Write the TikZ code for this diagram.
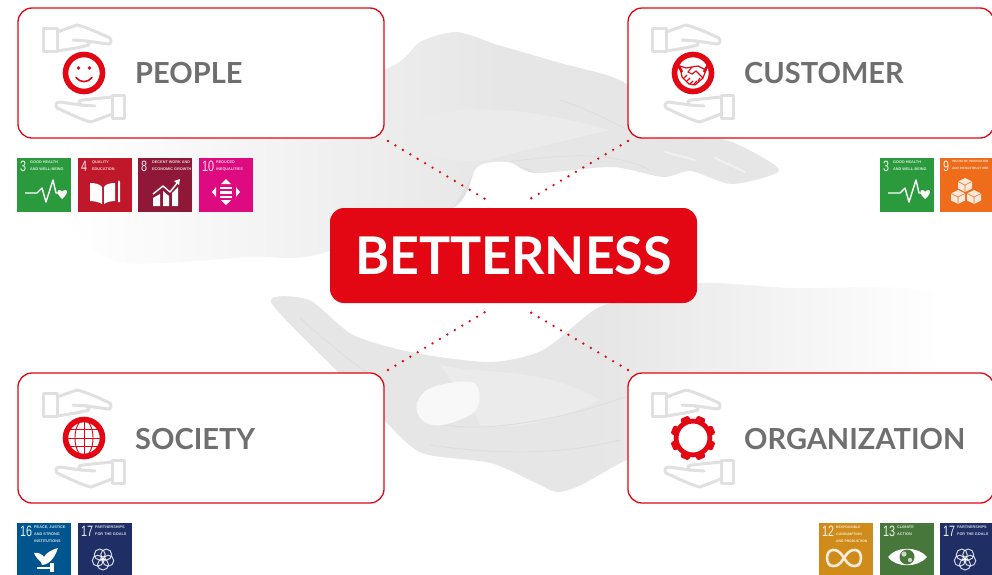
\documentclass[tikz,border=0pt]{standalone}
\usepackage{fontspec}
\setmainfont{Lato}
\newfontfamily\sdgfont{Liberation Sans}
\usetikzlibrary{calc}
\definecolor{brand}{HTML}{E30613}
\definecolor{labelgray}{HTML}{6F6F6F}
\definecolor{handline}{HTML}{E0E0E0}
\definecolor{skin}{HTML}{E6E6E6}
\definecolor{skinarm}{HTML}{F3F3F3}
\definecolor{skinlight}{HTML}{EBEBEB}
\definecolor{skindark}{HTML}{DEDEDE}
\definecolor{sdg3}{HTML}{2A9A3C}
\definecolor{sdg4}{HTML}{C0182B}
\definecolor{sdg8}{HTML}{8F1838}
\definecolor{sdg10}{HTML}{DE0A7F}
\definecolor{sdg12}{HTML}{D08C1A}
\definecolor{sdg16}{HTML}{00558F}
\definecolor{sdg17}{HTML}{1F2F66}
\definecolor{sdgorange}{HTML}{EE6C1A}
\definecolor{sdggreen}{HTML}{47773A}
\newcommand{\sdgsize}{3.8}
\tikzset{
 x=1pt,y=-1pt,
 card/.style={draw=brand,line width=1.3pt,fill=white,rounded corners=14pt,minimum width=366pt,minimum height=130pt,inner sep=0pt},
 cardlabel/.style={anchor=west,inner sep=0pt,text=labelgray,font=\fontsize{29}{29}\selectfont\bfseries},
 core/.style={fill=brand,rounded corners=14pt,minimum width=367pt,minimum height=95pt,inner sep=0pt,text=white,font=\fontsize{52}{52}\selectfont\bfseries},
 reddots/.style={draw=brand,line width=2.6pt,line cap=round,dash pattern=on 0pt off 8.65pt},
 handstroke/.style={draw=handline,line width=3pt,line join=round,line cap=round,fill=none},
 ringstroke/.style={draw=brand,line width=5.6pt,fill=white},
 sdgbox/.style={minimum width=54pt,minimum height=54pt,inner sep=0pt,anchor=north west},
 sdgnum/.style={anchor=north west,inner sep=0pt,text=white,text opacity=.9,font=\sdgfont\fontsize{15}{15}\selectfont},
 sdgtxt/.style={anchor=north west,inner sep=0pt,text=white,text opacity=.8,align=left,font=\sdgfont\fontsize{\sdgsize}{7}\selectfont\bfseries},
 wline/.style={draw=white,line width=1.4pt,line join=round,fill=none},
 caring/.pic={
  \draw[handstroke] (-41,-45) rectangle (-27,-22);
  \draw[handstroke] (-27,-41) -- (-7,-48) .. controls (2,-46) and (15,-40) .. (26,-35) .. controls (28,-32) and (27,-29) .. (24,-29) -- (3,-32) -- (-11,-33);
  \draw[handstroke] (3,-32) .. controls (6,-30) and (6,-27) .. (1,-27) -- (-8,-25) -- (-27,-22);
  \draw[handstroke] (28,22) rectangle (40,45);
  \draw[handstroke] (28,41) -- (7,49) .. controls (-2,47) and (-16,40) .. (-27,35) .. controls (-29,32) and (-28,29) .. (-24,29) -- (-3,32) -- (11,33);
  \draw[handstroke] (-3,32) .. controls (-6,30) and (-6,27) .. (-1,27) -- (8,26) -- (28,24);
 },
}
% SDG tile: #1 name, #2 x, #3 y, #4 colour, #5 number, #6 label, #7 label offset, #8 icon
\newcommand{\sdgtile}[8]{%
 \node[sdgbox,fill=#4] (#1) at (#2,#3) {};
 \begin{scope}[shift={(#2,#3)}]
  \node[sdgnum] (#1n) at (3,3) {\scalebox{.72}[1]{#5}};
  \node[sdgtxt] (#1t) at (#7,2.5) {#6};
  #8
 \end{scope}}
\newcommand{\iconhealth}{%
 \draw[wline] (8,35) -- (20,35) -- (25,30) -- (29,44) -- (36,22) -- (39,35) -- (41,35);
 \fill[white] (45,41) .. controls (40,36) and (39,33) .. (42,32) .. controls (44,32) and (45,33) .. (45,34) .. controls (45,33) and (47,32) .. (49,32) .. controls (51,33) and (50,37) .. (45,41) -- cycle;}
\newcommand{\iconbook}{%
 \fill[white] (12,25) .. controls (17,25) and (22,26) .. (24,29) -- (24,46) .. controls (21,44) and (16,43) .. (12,43) -- cycle;
 \fill[white] (37,25) .. controls (32,25) and (28,26) .. (26,29) -- (26,46) .. controls (29,44) and (33,43) .. (37,43) -- cycle;
 \fill[white] (40,24) -- (41,22) -- (42,24) -- (42,44) -- (40,44) -- cycle;}
\newcommand{\iconchart}{%
 \draw[wline,line width=1.4pt] (15,36) -- (25,28) -- (32,34) -- (40,24);
 \fill[white] (42,21) -- (36,23) -- (41,27) -- cycle;
 \fill[white] (15,40) -- (22,36) -- (22,48) -- (15,48) -- cycle;
 \fill[white] (25,33) -- (31,38) -- (31,48) -- (25,48) -- cycle;
 \fill[white] (34,35) -- (40,29) -- (40,48) -- (34,48) -- cycle;}
\newcommand{\iconreduced}{%
 \fill[white] (27,21) -- (32,26) -- (22,26) -- cycle;
 \fill[white] (27,47) -- (32,42) -- (22,42) -- cycle;
 \fill[white] (13,34) -- (17,29) -- (17,39) -- cycle;
 \fill[white] (41,34) -- (37,29) -- (37,39) -- cycle;
 \fill[white] (21,28.5) rectangle (33,31); \fill[white] (21,33) rectangle (33,35.5); \fill[white] (21,37.5) rectangle (33,40);}
\newcommand{\iconcubesb}{%
 \foreach \cx/\cy in {25/27,18/39,34/39}{
  \fill[white,opacity=.85] (\cx,\cy-7) -- (\cx+7,\cy-3.5) -- (\cx+7,\cy+3.5) -- (\cx,\cy+7) -- (\cx-7,\cy+3.5) -- (\cx-7,\cy-3.5) -- cycle;
  \draw[draw=sdgorange,line width=.6pt] (\cx-7,\cy-3.5) -- (\cx,\cy) -- (\cx+7,\cy-3.5) (\cx,\cy) -- (\cx,\cy+7);}}
\newcommand{\iconflower}{%
 \foreach \a in {90,162,234,306,18}{
  \draw[draw=white,opacity=.8,line width=1pt] ($(25,36)+(\a:5.5)$) circle (5.5pt);}
 \draw[draw=white,opacity=.8,line width=.8pt] (25,36) circle (2.5pt);}
\newcommand{\icondove}{%
 \fill[white] (17,30) .. controls (21,29) and (25,31) .. (27,34) .. controls (29,30) and (34,27) .. (41,25) .. controls (39,31) and (36,37) .. (31,40) .. controls (29,41) and (27,42) .. (25,42) -- (24,39) .. controls (21,37) and (19,34) .. (17,30) -- cycle;
 \fill[white] (20,44) rectangle (35,46);
 \fill[white] (33,40) rectangle (37,49);}
\newcommand{\iconinfinity}{%
 \draw[draw=white!85!orange,line width=2.6pt] (25,35) .. controls (20,27) and (17,27) .. (14,27) .. controls (6,27) and (6,43) .. (14,43) .. controls (17,43) and (20,43) .. (25,35) .. controls (30,27) and (33,27) .. (36,27) .. controls (44,27) and (44,43) .. (36,43) .. controls (33,43) and (30,43) .. (25,35) -- cycle;}
\newcommand{\iconeye}{%
 \fill[white] (8,34) .. controls (16,23) and (38,23) .. (47,34) .. controls (38,45) and (16,45) .. (8,34) -- cycle;
 \fill[sdggreen] (27,34) circle (7.5pt);
 \fill[white!70!sdggreen] (24,31) circle (2.6pt) (30,37) circle (2.2pt);}
\begin{document}
\begin{tikzpicture}
\useasboundingbox (0,0) rectangle (992,574);
\clip (0,0) rectangle (992,574);
\fill[white] (0,0) rectangle (992,574);
% ---- background hands
\begin{scope}
 \clip plot[smooth cycle,tension=.45] coordinates {(60,215)(60,150)(200,135)(384,70)(420,42)(457,32)(498,45)(560,63)(625,83)(663,135)(700,138)(732,142)(779,170)(732,184)(691,171)(663,177)(612,167)(536,173)(508,162)(477,167)(453,208)(333,250)(295,258)(250,257)(120,262)};
 \shade[left color=white,middle color=skinarm,right color=skin] (65,20) rectangle (500,270);
 \fill[skin] (499.5,20) rectangle (800,270);
 \fill[skinlight] (400,130) .. controls (440,100) and (520,105) .. (610,130) .. controls (570,140) and (520,150) .. (490,160) .. controls (450,165) and (420,155) .. (400,130) -- cycle;
 \fill[skindark,opacity=.7] (477,167) .. controls (500,165) and (530,165) .. (536,173) .. controls (510,190) and (480,190) .. (453,208) -- cycle;
 \draw[skindark,line width=.8pt] (508,162) .. controls (560,155) and (610,150) .. (650,170);
 \draw[skindark,line width=.8pt] (560,100) .. controls (590,110) and (620,125) .. (645,140);
 \draw[white!40!skin,line width=2pt,line cap=round] (665,152) -- (695,160) (715,158) -- (745,172);
\end{scope}
\begin{scope}
 \clip plot[smooth cycle,tension=.45] coordinates {(271,302)(309,300)(353,335)(415,353)(491,362)(543,350)(594,310)(629,298)(698,283)(790,288)(940,295)(945,390)(800,410)(640,466)(627,460)(581,485)(557,492)(536,483)(491,463)(422,453)(384,420)(336,370)};
 \fill[skin] (260,270) rectangle (600.5,500);
 \shade[left color=skin,middle color=skinarm,right color=white] (600,270) rectangle (940,500);
 \fill[skinlight] (440,365) .. controls (480,375) and (540,365) .. (600,400) .. controls (560,420) and (520,430) .. (480,425) .. controls (470,400) and (450,380) .. (440,365) -- cycle;
 \fill[white!70!skin] plot[smooth cycle,tension=.6] coordinates {(417,403)(433,387)(474,383)(476,410)(443,425)(422,420)};
 \draw[skindark,line width=.9pt] (443,425) .. controls (490,432) and (560,420) .. (625,397);
 \draw[skindark,line width=.9pt] (430,445) .. controls (500,455) and (560,455) .. (620,440);
 \draw[skindark,line width=.8pt] (300,318) .. controls (330,345) and (355,365) .. (385,385);
\end{scope}
% ---- cards
\node[card] (people) at (201,73) {};
\node[card] (customer) at (811,73) {};
\node[card] (society) at (201,438) {};
\node[card] (organization) at (811,438) {};
\node[cardlabel] (peoplelabel) at (135,73) {PEOPLE};
\node[cardlabel] (customerlabel) at (744,73) {CUSTOMER};
\node[cardlabel] (societylabel) at (135,439) {SOCIETY};
\node[cardlabel] (organizationlabel) at (744,439) {ORGANIZATION};
\node[core] (better) at (513.5,255.5) {BETTERNESS};
% ---- dotted connectors
\coordinate (pa) at (388,141); \coordinate (pb) at (485,199);
\coordinate (ca) at (628,141); \coordinate (cb) at (530,199);
\coordinate (sa) at (388,370); \coordinate (sb) at (485,312);
\coordinate (oa) at (628,370); \coordinate (ob) at (530,312);
\draw[reddots] (pa) -- (pb);
\draw[reddots] (ca) -- (cb);
\draw[reddots] (sa) -- (sb);
\draw[reddots] (oa) -- (ob);
% ---- caring hands
\pic at (84,73) {caring};
\pic at (693,73) {caring};
\pic at (84,438) {caring};
\pic at (693,438) {caring};
% ---- smile
\begin{scope}[shift={(84,73)}]
 \draw[ringstroke] (0,0) circle (18.5pt);
 \fill[brand] (-5.5,-5) circle (1.9pt) (5.5,-5) circle (1.9pt);
 \draw[brand,line width=1.6pt,line cap=round] (-8,4.5) .. controls (-4,10) and (4,10) .. (8,4.5);
\end{scope}
% ---- handshake
\begin{scope}[shift={(693,73)}]
 \draw[ringstroke] (0,0) circle (18.5pt);
 \draw[brand,line width=1.2pt,line join=round,fill=white] (-13,-7) -- (-7,-5) -- (-1,-6) -- (5,-7) -- (13,-3) -- (10,5) -- (2,12) -- (-4,11) -- (-11,4) -- cycle;
 \draw[brand,line width=2.6pt] (-15,-8) -- (-11,-1);
 \draw[brand,line width=2.6pt] (15,-8) -- (11,-1);
 \draw[brand,line width=1.1pt] (-1,-6) -- (-5,-1) -- (-1,1) -- (3,-2) -- (10,5);
 \draw[brand,line width=1.1pt] (-9,5) -- (-6,2) (-6,8) -- (-3,5) (-3,11) -- (0,8) (1,11) -- (4,8) (5,8) -- (7,5);
\end{scope}
% ---- globe
\begin{scope}[shift={(84,438)}]
 \draw[ringstroke] (0,0) circle (18.5pt);
 \draw[brand,line width=.9pt] (0,-18) -- (0,18) (-18,0) -- (18,0);
 \draw[brand,line width=.9pt] (0,0) ellipse (9pt and 18pt);
 \draw[brand,line width=.9pt] (-15,-8.5) -- (15,-8.5) (-15,8.5) -- (15,8.5);
\end{scope}
% ---- gear
\begin{scope}[shift={(693,438)}]
 \foreach \a in {22.5,67.5,...,337.5}{
  \fill[brand,rounded corners=1.5pt,rotate=\a] (-4.6,-22.5) rectangle (4.6,-12);}
 \draw[brand,line width=4.8pt,fill=white] (0,0) circle (16.9pt);
\end{scope}
% ---- SDG tiles
\sdgtile{a}{17}{158}{sdg3}{3}{GOOD HEALTH\\AND WELL-BEING}{13}{\iconhealth}
\sdgtile{b}{78}{158}{sdg4}{4}{QUALITY\\EDUCATION}{14}{\iconbook}
\sdgtile{c}{138}{158}{sdg8}{8}{DECENT WORK AND\\ECONOMIC GROWTH}{14}{\iconchart}
\sdgtile{d}{199}{158}{sdg10}{10}{REDUCED\\INEQUALITIES}{17}{\iconreduced}
\sdgtile{e}{880}{158}{sdg3}{3}{GOOD HEALTH\\AND WELL-BEING}{13}{\iconhealth}
\renewcommand{\sdgsize}{3.1}
\sdgtile{f}{940}{158}{sdgorange}{9}{INDUSTRY, INNOVATION\\AND INFRASTRUCTURE}{12}{\iconcubesb}
\renewcommand{\sdgsize}{3.8}
\sdgtile{g}{17}{523}{sdg16}{16}{PEACE, JUSTICE\\AND STRONG\\INSTITUTIONS}{17}{\icondove}
\sdgtile{h}{78}{523}{sdg17}{17}{PARTNERSHIPS\\FOR THE GOALS}{17}{\iconflower}
\renewcommand{\sdgsize}{3.4}
\sdgtile{i}{819}{523}{sdg12}{12}{RESPONSIBLE\\CONSUMPTION\\AND PRODUCTION}{17}{\iconinfinity}
\renewcommand{\sdgsize}{3.8}
\sdgtile{j}{880}{523}{sdggreen}{13}{CLIMATE\\ACTION}{17}{\iconeye}
\sdgtile{k}{940}{523}{sdg17}{17}{PARTNERSHIPS\\FOR THE GOALS}{17}{\iconflower}
\end{tikzpicture}
\end{document}
